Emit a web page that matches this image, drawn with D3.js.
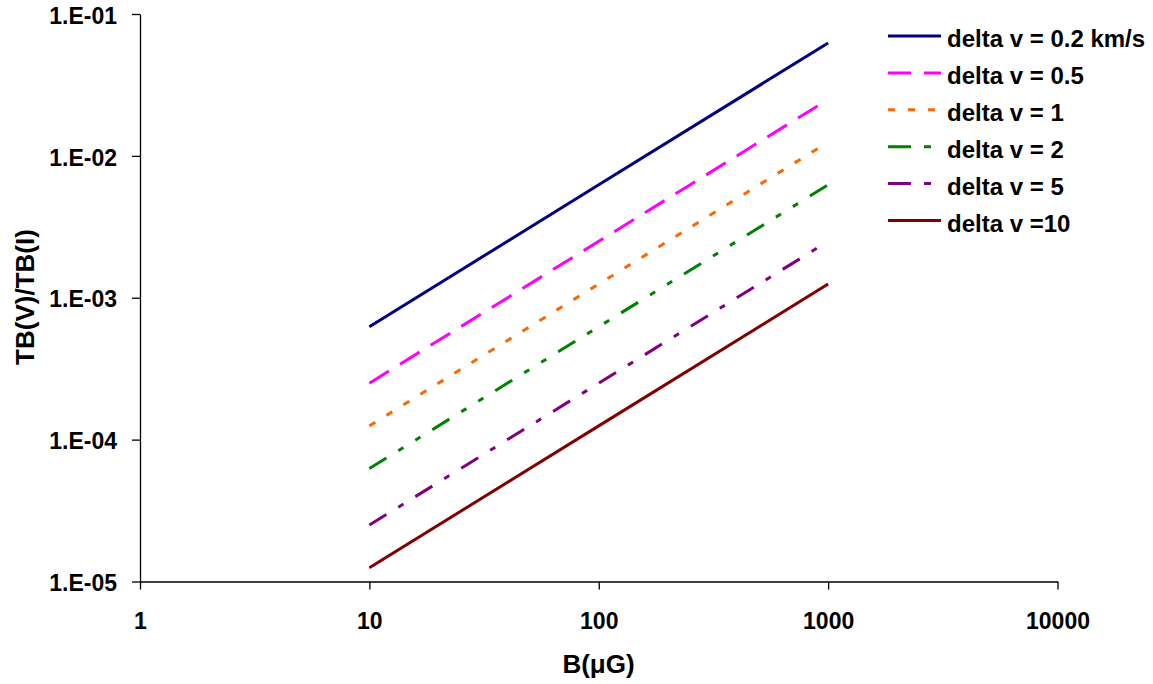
<!DOCTYPE html>
<html>
<head>
<meta charset="utf-8">
<script src="https://cdn.jsdelivr.net/npm/d3@7"></script>
<style>
  body { margin: 0; background: #fff; }
  text { font-family: "Liberation Sans", Arial, sans-serif; font-weight: bold; fill: #000; }
</style>
</head>
<body>
<div id="chart"></div>
<script>
// B values (µG) where each series is sampled
let bValues = [10, 100, 1000];

// TB(V)/TB(I) for each delta v
let dv02 = [6.25e-4, 6.25e-3, 6.25e-2];
let dv05 = [2.5e-4, 2.5e-3, 2.5e-2];
let dv1 = [1.25e-4, 1.25e-3, 1.25e-2];
let dv2 = [6.25e-5, 6.25e-4, 6.25e-3];
let dv5 = [2.5e-5, 2.5e-4, 2.5e-3];
let dv10 = [1.25e-5, 1.25e-4, 1.25e-3];

let seriesNames = [
  "delta v = 0.2 km/s",
  "delta v = 0.5",
  "delta v = 1",
  "delta v = 2",
  "delta v = 5",
  "delta v =10",
];

let xTicks = [1, 10, 100, 1000, 10000];
let yTicks = [1e-5, 1e-4, 1e-3, 1e-2, 1e-1];
let yTickLabels = ["1.E-05", "1.E-04", "1.E-03", "1.E-02", "1.E-01"];

let svgWidth = 1153;
let svgHeight = 684;

let svg = d3
  .select("#chart")
  .append("svg")
  .attr("width", svgWidth)
  .attr("height", svgHeight);

let xScale = d3.scaleLog().domain([1, 10000]).range([140, 1057.5]);
let yScale = d3.scaleLog().domain([1e-5, 1e-1]).range([581.5, 14]);

let xAxis = d3.axisBottom(xScale).tickValues(xTicks).tickFormat(d3.format("d")).tickSize(8).tickSizeOuter(0);
let yAxis = d3
  .axisLeft(yScale)
  .tickValues(yTicks)
  .tickFormat((d, i) => yTickLabels[i])
  .tickSize(8)
  .tickSizeOuter(0);

let gx = svg.append("g").attr("transform", "translate(0," + yScale(1e-5) + ")").call(xAxis);
gx.selectAll("text").attr("y", 47.5).attr("dy", 0).style("font-size", "23px");

let gy = svg.append("g").attr("transform", "translate(" + xScale(1) + ",0)").call(yAxis);
gy.selectAll("text").attr("x", -23).attr("dy", "0.4em").style("font-size", "23px");

svg.selectAll(".domain, .tick line").attr("stroke", "#000").attr("stroke-width", 1.3);

// axis titles
svg
  .append("text")
  .text("B(μG)")
  .attr("x", 598.5)
  .attr("y", 673)
  .attr("text-anchor", "middle")
  .style("font-size", "26px");

svg
  .append("text")
  .text("TB(V)/TB(I)")
  .attr("transform", "translate(34, 297) rotate(-90)")
  .attr("text-anchor", "middle")
  .style("font-size", "26px");

let allSeries = [dv02, dv05, dv1, dv2, dv5, dv10];
let colors = ["#000080", "#ff00ff", "#ff6600", "#008000", "#800080", "#800000"];
let dashes = ["none", "23,13", "7,13", "20,14,6,14,6,14", "20,14,6,14", "none"];
let legendDashes = ["none", "23,13", "7,13", "23,13,7,13", "23,13,7,13", "none"];

let line = d3
  .line()
  .x((d, i) => xScale(bValues[i]))
  .y((d) => yScale(d));

for (let i = 0; i < allSeries.length; i++) {
  svg
    .append("path")
    .attr("fill", "none")
    .attr("stroke", colors[i])
    .attr("stroke-width", 3)
    .attr("stroke-dasharray", dashes[i])
    .attr("d", line(allSeries[i]));
}

// legend
let legend = svg.append("g");
let rows = legend
  .selectAll("g")
  .data(seriesNames)
  .enter()
  .append("g")
  .attr("transform", (d, i) => "translate(888," + (36 + i * 36.9) + ")");

rows
  .append("line")
  .attr("x1", 0)
  .attr("x2", 53)
  .attr("stroke", (d, i) => colors[i])
  .attr("stroke-width", 3)
  .attr("stroke-dasharray", (d, i) => legendDashes[i]);

rows
  .append("text")
  .text((d) => d)
  .attr("x", 59)
  .attr("y", 11)
  .style("font-size", "24px");
</script>
</body>
</html>
